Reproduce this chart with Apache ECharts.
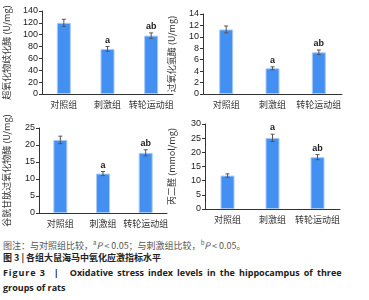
<!DOCTYPE html>
<html><head><meta charset="utf-8">
<script src="https://cdn.jsdelivr.net/npm/echarts@6/dist/echarts.min.js"></script>
<style>
html,body{margin:0;padding:0;background:#fff;}
#c{width:369px;height:230px;}
.cap{font-family:"Noto Sans CJK SC","Noto Sans",sans-serif;font-size:9px;line-height:15px;position:absolute;left:3px;white-space:nowrap;}
</style></head>
<body>
<div id="c"></div>
<div class="cap" style="top:235px;color:#555;">图注：与对照组比较，<sup style="font-size:6px">a</sup><i>P</i> &lt; 0.05；与刺激组比较，<sup style="font-size:6px">b</sup><i>P</i> &lt; 0.05。</div>
<div class="cap" style="top:250px;color:#222;font-weight:bold;">图 3 | 各组大鼠海马中氧化应激指标水平</div>
<div class="cap" style="top:265px;color:#222;font-weight:bold;font-family:'Open Sans','Noto Sans',sans-serif;"><span style="letter-spacing:0.9px;">Figure 3</span><span style="margin:0 11px 0 8px;">|</span><span style="word-spacing:1.8px;">Oxidative stress index levels in the hippocampus of three</span></div>
<div class="cap" style="top:280px;color:#222;font-weight:bold;font-family:'Open Sans','Noto Sans',sans-serif;">groups of rats</div>
<script>
const categories = ['对照组', '刺激组', '转轮运动组'];
const sodValues = [120, 76, 98.5];
const sodErrors = [6, 4, 4.5];
const catValues = [11.3, 4.5, 7.3];
const catErrors = [0.6, 0.25, 0.4];
const gshValues = [21.5, 11.6, 17.7];
const gshErrors = [1.1, 0.6, 0.9];
const mdaValues = [11.8, 25.1, 18.3];
const mdaErrors = [0.6, 1.3, 0.9];
const sigSod = ['', 'a', 'ab'];
const sigCat = ['', 'a', 'ab'];
const sigGsh = ['', 'a', 'ab'];
const sigMda = ['', 'a', 'ab'];
const yNames = ['超氧化物歧化酶 (U/mg)', '过氧化氢酶 (U/mg)', '谷胱甘肽过氧化物酶 (U/mg)', '丙二醛 (mmol/mg)'];
const yMax = [140, 14, 25, 30];
const yInterval = [20, 2, 5, 5];

const panels = [
  {v: sodValues, e: sodErrors, s: sigSod},
  {v: catValues, e: catErrors, s: sigCat},
  {v: gshValues, e: gshErrors, s: sigGsh},
  {v: mdaValues, e: mdaErrors, s: sigMda}
];
const grids = [
  {left: 42, right: 196, top: 11, height: 83},
  {left: 203, right: 27, top: 14, height: 80},
  {left: 39, right: 202, top: 128, height: 85},
  {left: 205, right: 29, top: 124, height: 85}
];
const nameGaps = [31, 27, 28, 29];
const cjk = '"Noto Sans CJK SC", sans-serif';
const xAxis = [], yAxis = [], series = [];
panels.forEach((p, i) => {
  xAxis.push({
    type: 'category', gridIndex: i, data: categories,
    axisLine: {lineStyle: {color: '#333', width: 1}},
    axisTick: {length: 4, lineStyle: {color: '#333'}},
    axisLabel: {color: '#333', fontSize: 9, fontFamily: cjk, margin: 6, interval: 0}
  });
  yAxis.push({
    type: 'value', gridIndex: i, min: 0, max: yMax[i], interval: yInterval[i],
    name: yNames[i], nameLocation: 'middle', nameGap: nameGaps[i], nameRotate: 90,
    nameTextStyle: {color: '#333', fontSize: 9, fontFamily: cjk},
    axisLine: {show: true, lineStyle: {color: '#333', width: 1}},
    axisTick: {show: true, length: 3, lineStyle: {color: '#333'}},
    splitLine: {show: false},
    axisLabel: {color: '#222', fontSize: 9, fontFamily: 'Liberation Sans, Arial, sans-serif', margin: 4}
  });
  series.push({
    type: 'bar', xAxisIndex: i, yAxisIndex: i, data: p.v, barWidth: 14,
    itemStyle: {color: '#4490f2', borderColor: '#a9cbf7', borderWidth: 1},
    silent: true
  });
  series.push({
    type: 'custom', xAxisIndex: i, yAxisIndex: i,
    data: p.v.map((v, k) => [k, v - p.e[k], v + p.e[k], p.s[k]]),
    renderItem: function (params, api) {
      const x = api.coord([api.value(0), 0])[0];
      const lo = api.coord([api.value(0), api.value(1)])[1];
      const hi = api.coord([api.value(0), api.value(2)])[1];
      const w = 2;
      const st = {stroke: '#555', lineWidth: 1};
      const children = [
        {type: 'line', shape: {x1: x, y1: lo, x2: x, y2: hi}, style: st},
        {type: 'line', shape: {x1: x - w, y1: lo, x2: x + w, y2: lo}, style: st},
        {type: 'line', shape: {x1: x - w, y1: hi, x2: x + w, y2: hi}, style: st}
      ];
      const lbl = p.s[params.dataIndex];
      if (lbl) {
        children.push({type: 'text', x: x, y: hi - 2, style: {text: lbl, fill: '#222', font: 'bold 9px "Liberation Sans", Arial, sans-serif', textAlign: 'center', textVerticalAlign: 'bottom'}});
      }
      return {type: 'group', children: children};
    },
    z: 5
  });
});
const chart = echarts.init(document.getElementById('c'), null, {renderer: 'canvas'});
chart.setOption({
  animation: false,
  grid: grids,
  xAxis: xAxis,
  yAxis: yAxis,
  series: series
});
</script>
</body></html>
